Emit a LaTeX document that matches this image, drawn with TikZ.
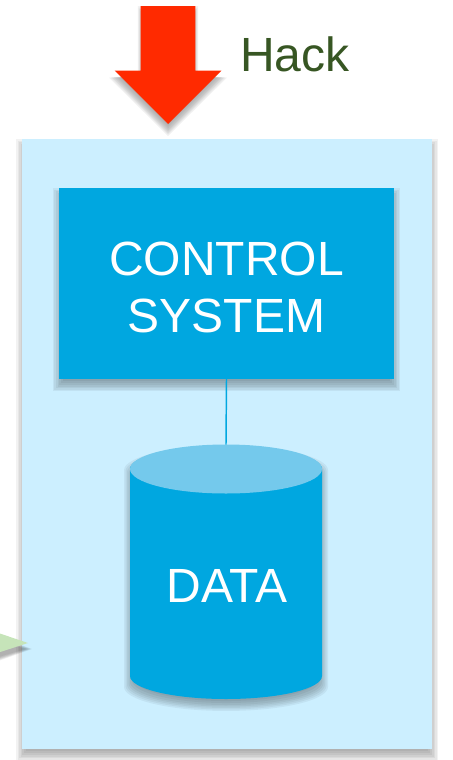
\documentclass[tikz,border=0pt]{standalone}
\usepackage{fontspec}
\setmainfont{Liberation Sans}
\usetikzlibrary{shapes.arrows}
\definecolor{panelblue}{HTML}{CCEFFF}
\definecolor{boxblue}{HTML}{00A7E0}
\definecolor{lidblue}{HTML}{74C9EC}
\definecolor{hackred}{HTML}{FF2A00}
\definecolor{hackgreen}{HTML}{375623}
\definecolor{leafgreen}{HTML}{C6E4B9}
% centre x, centre y, half width, half height, path round the centre
\newcommand{\softshadow}[5]{%
  \foreach \d in {6,4.5,3,1.5,0,-2,-4}
    \fill[black, opacity=.05, shift={(#1,#2+6)}, xscale={1+\d/#3}, yscale={1+\d/#4}] #5;
}
\newcommand{\drumpath}{(-96,-103) -- (-96,104) arc[start angle=180, end angle=0, x radius=96, y radius=23]
    -- (96,-103) arc[start angle=0, end angle=-180, x radius=96, y radius=23] -- cycle}
\begin{document}
\begin{tikzpicture}[
   x=.75pt, y=-.75pt,
   every node/.style={inner sep=0pt, outer sep=0pt},
   label text/.style={text=white, font=\fontsize{36}{42.5}\selectfont, align=center}]

\useasboundingbox (0,0) rectangle (453,760);

\softshadow{227}{444}{205}{305}{(-205,-305) rectangle (205,305)}
\node (panel) at (227,444) [fill=panelblue,
    minimum width=307.5pt, minimum height=457.5pt] {};

% arrow coming in from the left, mostly off the page
\softshadow{0}{643}{40}{23}{(-40,-23) -- (28,0) -- (-40,22) -- cycle}
\fill[leafgreen] (-40,620) -- (28,643) -- (-40,665) -- cycle;

\softshadow{168}{65}{53}{59}{(-27,-59) -- (27,-59) -- (27,6) -- (53,6) -- (0,59) -- (-53,6) -- (-27,6) -- cycle}
\node (hackarrow) at (168,124) [shape=single arrow, shape border rotate=270, anchor=tip,
    fill=hackred, inner sep=20.25pt, minimum height=88.5pt, minimum width=79.5pt,
    single arrow head extend=19.5pt, single arrow tip angle=90,
    single arrow head indent=0pt] {};
\node (hack) at (295,54) [text=hackgreen, font=\fontsize{36}{44}\selectfont] {Hack};

\softshadow{226.5}{283.5}{167.5}{95.5}{(-167.5,-95.5) rectangle (167.5,95.5)}
\node (control) at (226.5,283.5) [fill=boxblue,
    minimum width=251.25pt, minimum height=143.25pt] {};
\node (controllabel) at (226.5,287.5) [label text] {CONTROL\\SYSTEM};

\softshadow{226}{572}{96}{128}{\drumpath}
\fill[boxblue, shift={(226,572)}] \drumpath;
\fill[lidblue] (226,469) ellipse (96 and 24.5);
\coordinate (drumtop) at (226,444.5);
\node (data) at (227,586) [label text] {DATA};

\draw[boxblue, line width=1.1pt] (control.south) -- (drumtop);

\end{tikzpicture}
\end{document}
